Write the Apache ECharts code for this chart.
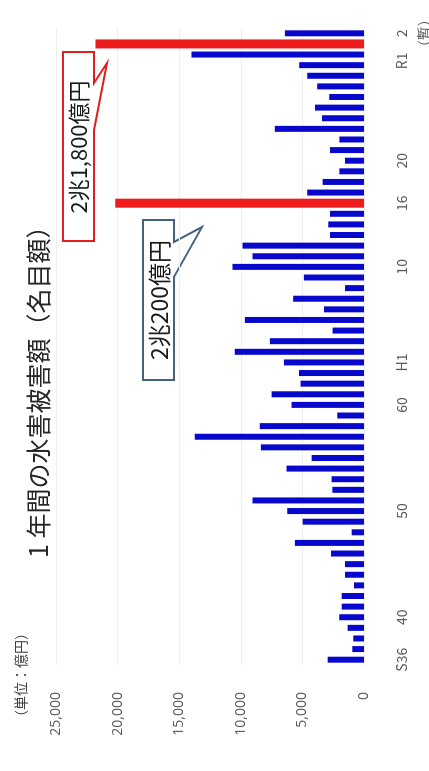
<!DOCTYPE html>
<html>
<head>
<meta charset="utf-8">
<script src="https://cdn.jsdelivr.net/npm/echarts@6/dist/echarts.min.js"></script>
<style>
html, body { margin: 0; padding: 0; background: #fff; overflow: hidden; }
/* chart is laid out landscape, then turned a quarter turn like the photo */
#main { position: absolute; left: 0; top: 0; width: 771px; height: 429px;
        transform-origin: 0 0; transform: translateY(771px) rotate(-90deg); }
</style>
</head>
<body>
<div id="main"></div>
<script>
// S36 (1961) .. R2 (2020)
var years = [
	'S36','S37','S38','S39','S40','S41','S42','S43','S44','S45',
	'S46','S47','S48','S49','S50','S51','S52','S53','S54','S55',
	'S56','S57','S58','S59','S60','S61','S62','S63',
	'H1','H2','H3','H4','H5','H6','H7','H8','H9','H10',
	'H11','H12','H13','H14','H15','H16','H17','H18','H19','H20',
	'H21','H22','H23','H24','H25','H26','H27','H28','H29','H30',
	'R1','R2'
];
// damage, 億円
var damage = [
	2950, 950, 870, 1330, 2010, 1810, 1810, 810, 1540, 1540,
	2680, 5610, 1000, 4980, 6230, 9050, 2570, 2630, 6290, 4250,
	8370, 13740, 8460, 2170, 5880, 7500, 5150, 5280,
	6500, 10490, 7640, 2550, 9670, 3250, 5750, 1540, 4880, 10670,
	9050, 9860, 2760, 2900, 2760, 20200, 4610, 3360, 2000, 1540,
	2760, 2000, 7240, 3410, 3980, 2820, 3800, 4610, 5260, 14000,
	21800, 6420
];
var highlightYears = ['H16', 'R1'];
var shownLabels = {
	S36: 'S36', S40: '40', S50: '50', S60: '60', H1: 'H1',
	H10: '10', H16: '16', H20: '20', R1: '{shift|R1}', R2: '2\n（暫）'
};
var valueTicks = [0, 5000, 10000, 15000, 20000, 25000];

var blueData = [];
var redData = [];
for (var i = 0; i < years.length; i++) {
	var hot = highlightYears.indexOf(years[i]) >= 0;
	blueData.push(hot ? '-' : damage[i]);
	redData.push(hot ? damage[i] : '-');
}

var jpFont = '"Noto Sans CJK JP", sans-serif';
var numFont = '"Open Sans", "Noto Sans", sans-serif';

var myChart = echarts.init(document.getElementById('main'));

var option = {
	backgroundColor: '#fff',
	animation: false,
	grid: {
		left: 106,
		right: 28,
		top: 56,
		bottom: 65,
		outerBoundsMode: 'none'
	},
	xAxis: [{
		type: 'category',
		data: years,
		axisLine: { show: false },
		axisTick: { show: false },
		axisLabel: {
			interval: 0,
			margin: 27,
			color: '#595959',
			fontSize: 14,
			lineHeight: 22,
			fontFamily: jpFont,
			formatter: function (v) { return shownLabels[v] || ''; },
			rich: {
				// R1 sits left of its bar so it does not run into "2"
				shift: { padding: [0, 34, 0, 0], color: '#595959', fontSize: 14, fontFamily: jpFont }
			}
		}
	}, {
		type: 'category',
		data: years,
		show: false
	}],
	yAxis: {
		type: 'value',
		min: valueTicks[0],
		max: valueTicks[valueTicks.length - 1],
		interval: valueTicks[1] - valueTicks[0],
		axisLine: { show: false },
		axisTick: { show: false },
		splitLine: { lineStyle: { color: '#eeeeee', width: 1 } },
		axisLabel: {
			margin: 27,
			color: '#595959',
			fontSize: 14,
			fontFamily: numFont,
			formatter: function (v) { return v.toLocaleString('en-US'); }
		}
	},
	series: [{
		name: 'damage',
		type: 'bar',
		xAxisIndex: 0,
		barWidth: 6,
		itemStyle: { color: '#0808cc' },
		data: blueData
	}, {
		name: 'record',
		type: 'bar',
		xAxisIndex: 1,
		barWidth: 9,
		itemStyle: { color: '#ee1c1c' },
		data: redData
	}],
	graphic: [{
		type: 'text',
		x: 213,
		y: 38,
		style: {
			text: '1 年間の水害被害額（名目額）',
			font: 'normal 25px ' + jpFont,
			fill: '#262626',
			align: 'left',
			verticalAlign: 'middle'
		}
	}, {
		type: 'text',
		x: 47,
		y: 21,
		style: {
			text: '（単位：億円）',
			font: 'normal 14px ' + jpFont,
			fill: '#404040',
			align: 'left',
			verticalAlign: 'middle'
		}
	}, {
		// callout for R1
		type: 'polygon',
		shape: { points: [[530, 63], [719, 63], [719, 94], [688, 94], [708, 107], [641, 94], [530, 94]] },
		style: { fill: '#fff', stroke: '#e01f1f', lineWidth: 2 }
	}, {
		type: 'text',
		x: 624,
		y: 79,
		style: {
			text: '2兆1,800億円',
			font: 'normal 22px ' + jpFont,
			fill: '#1a1a1a',
			align: 'center',
			verticalAlign: 'middle'
		}
	}, {
		// callout for H16
		type: 'polygon',
		shape: { points: [[391, 143], [551, 143], [551, 174], [529, 174], [544, 202], [494, 174], [391, 174]] },
		style: { fill: '#fff', stroke: '#44627f', lineWidth: 2 }
	}, {
		type: 'text',
		x: 471,
		y: 159,
		style: {
			text: '2兆200億円',
			font: 'normal 23px ' + jpFont,
			fill: '#1a1a1a',
			align: 'center',
			verticalAlign: 'middle'
		}
	}]
};

myChart.setOption(option);
</script>
</body>
</html>
